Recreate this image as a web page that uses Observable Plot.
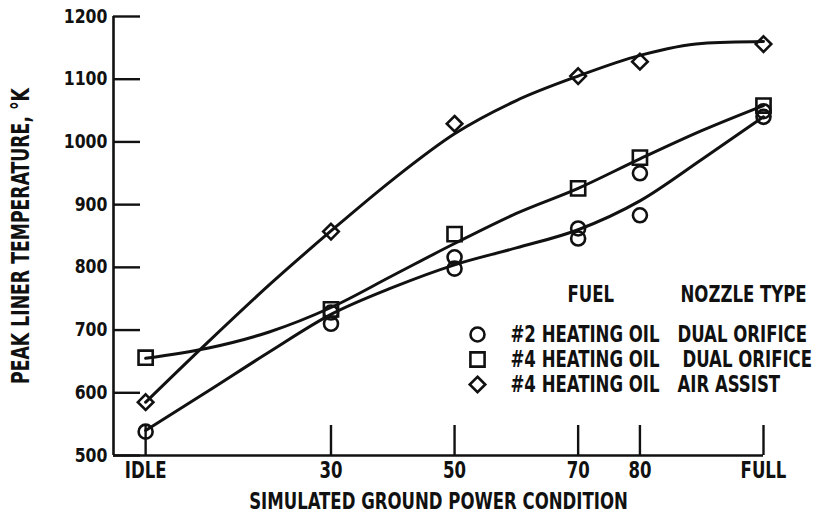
<!DOCTYPE html>
<html>
<head>
<meta charset="utf-8">
<script src="https://cdn.jsdelivr.net/npm/d3@7"></script>
<script src="https://cdn.jsdelivr.net/npm/@observablehq/plot@0.6"></script>
<style>
  html, body { margin: 0; padding: 0; background: #fff; }
  #chart { width: 820px; height: 517px; }
</style>
</head>
<body>
<div id="chart"></div>
<script>
// ---- tick labels ----
const xTickValues = [0, 30, 50, 70, 80, 100];
const xTickLabels = ["IDLE", "30", "50", "70", "80", "FULL"];
const yTickValues = [500, 600, 700, 800, 900, 1000, 1100, 1200];

// ---- measured points (x: power condition, IDLE = 0, FULL = 100) ----
const oil2DualX = [0, 30, 30, 50, 50, 70, 70, 80, 80, 100, 100];
const oil2DualY = [538, 710, 728, 798, 816, 846, 862, 883, 950, 1040, 1049];
const oil4DualX = [0, 30, 50, 70, 80, 100];
const oil4DualY = [656, 733, 853, 926, 975, 1058];
const oil4AirX  = [0, 30, 50, 70, 80, 100];
const oil4AirY  = [585, 857, 1029, 1105, 1128, 1156];

// ---- faired curves ----
const fitX        = [0, 10, 20, 30, 40, 50, 60, 70, 80, 90, 100];
const oil2DualFit = [540, 602, 665, 725, 768, 804, 831, 860, 906, 972, 1040];
const oil4DualFit = [655, 671, 697, 736, 787, 838, 886, 926, 973, 1018, 1058];
const oil4AirFit  = [585, 680, 772, 858, 940, 1013, 1066, 1105, 1138, 1157, 1160];

// ---- legend ----
const legendFuel   = ["#2 HEATING OIL", "#4 HEATING OIL", "#4 HEATING OIL"];
const legendNozzle = ["DUAL ORIFICE", "DUAL ORIFICE", "AIR ASSIST"];
const legendSymbol = ["circle", "square", "diamond2"];
const legendHeaders = ["FUEL", "NOZZLE TYPE"];

const xMin = -5.2;
const font = "'DejaVu Sans Condensed','DejaVu Sans',sans-serif";
const ink = "#111";

const pts = (xs, ys) => xs.map((x, i) => ({x, y: ys[i]}));
const s1 = pts(oil2DualX, oil2DualY);
const s2 = pts(oil4DualX, oil4DualY);
const s3 = pts(oil4AirX, oil4AirY);
const f1 = pts(fitX, oil2DualFit);
const f2 = pts(fitX, oil4DualFit);
const f3 = pts(fitX, oil4AirFit);

const symSize = {circle: 7, square: 8, diamond2: 7};
const legendRows = legendFuel.map((f, i) => ({fuel: f, nozzle: legendNozzle[i], symbol: legendSymbol[i], row: i}));
const rowDy = i => 318 + i * 25;
const T = 23; // text size for labels

const chart = Plot.plot({
  width: 820,
  height: 517,
  marginLeft: 113,
  marginRight: 57,
  marginTop: 16,
  marginBottom: 62,
  style: {fontFamily: font, fontWeight: "bold", color: ink, background: "#fff"},
  x: {domain: [xMin, 100]},
  y: {domain: [500, 1200]},
  marks: [
    // axes
    Plot.ruleX([xMin], {y1: 500, y2: 1200, stroke: ink, strokeWidth: 2.6}),
    Plot.ruleY([500], {x1: xMin, x2: 100, stroke: ink, strokeWidth: 2.6}),
    Plot.axisY({ticks: yTickValues, tickSize: -27, tickPadding: 33, tickFormat: d => String(d),
      fontSize: 19, strokeWidth: 2.4, stroke: ink, label: null}),
    Plot.axisX({ticks: xTickValues, tickSize: -30, tickPadding: 36,
      tickFormat: d => xTickLabels[xTickValues.indexOf(d)],
      fontSize: T, strokeWidth: 2.4, stroke: ink, label: null}),
    // axis titles
    Plot.text(["PEAK LINER TEMPERATURE, °K"], {frameAnchor: "left", dx: -92, rotate: -90,
      fontSize: 24, fill: ink, textAnchor: "middle", lineAnchor: "middle"}),
    Plot.text(["SIMULATED GROUND POWER CONDITION"], {frameAnchor: "bottom", dy: 46,
      fontSize: T, fill: ink, textAnchor: "middle", lineAnchor: "middle"}),
    // curves
    Plot.line(f1, {x: "x", y: "y", curve: "monotone-x", stroke: ink, strokeWidth: 3}),
    Plot.line(f2, {x: "x", y: "y", curve: "monotone-x", stroke: ink, strokeWidth: 3}),
    Plot.line(f3, {x: "x", y: "y", curve: "monotone-x", stroke: ink, strokeWidth: 3}),
    // points
    Plot.dot(s1, {x: "x", y: "y", symbol: "circle", r: symSize.circle, stroke: ink, strokeWidth: 2.6, fill: "none"}),
    Plot.dot(s2, {x: "x", y: "y", symbol: "square", r: symSize.square, stroke: ink, strokeWidth: 2.6, fill: "none"}),
    Plot.dot(s3, {x: "x", y: "y", symbol: "diamond2", r: symSize.diamond2, stroke: ink, strokeWidth: 2.6, fill: "none"}),
    // legend
    Plot.text([legendHeaders[0]], {frameAnchor: "top-left", dx: 454, dy: 278,
      fontSize: T, fill: ink, textAnchor: "start", lineAnchor: "middle"}),
    Plot.text([legendHeaders[1]], {frameAnchor: "top-left", dx: 567, dy: 278,
      fontSize: T, fill: ink, textAnchor: "start", lineAnchor: "middle"}),
    ...legendRows.map(r => Plot.dot([r], {frameAnchor: "top-left", dx: 364, dy: rowDy(r.row),
      symbol: r.symbol, r: symSize[r.symbol], stroke: ink, strokeWidth: 2.6, fill: "none"})),
    ...legendRows.map(r => Plot.text([r], {frameAnchor: "top-left", dx: 397, dy: rowDy(r.row),
      text: "fuel", fontSize: T, fill: ink, textAnchor: "start", lineAnchor: "middle"})),
    ...legendRows.map(r => Plot.text([r], {frameAnchor: "top-left", dx: r.row === 1 ? 569 : 564, dy: rowDy(r.row),
      text: "nozzle", fontSize: T, fill: ink, textAnchor: "start", lineAnchor: "middle"}))
  ]
});
document.getElementById("chart").appendChild(chart);

// condensed lettering: squeeze glyphs horizontally about each text's anchor point
const yTickGroup = chart.querySelector('g[aria-label="y-axis tick label"]');
chart.querySelectorAll("text").forEach(t => {
  const factor = yTickGroup && yTickGroup.contains(t) ? 0.92 : 0.8;
  const x0 = +(t.getAttribute("x") || 0);
  const tr = t.getAttribute("transform") || "";
  t.setAttribute("transform", `${tr} translate(${x0},0) scale(${factor},1) translate(${-x0},0)`.trim());
});
</script>
</body>
</html>
